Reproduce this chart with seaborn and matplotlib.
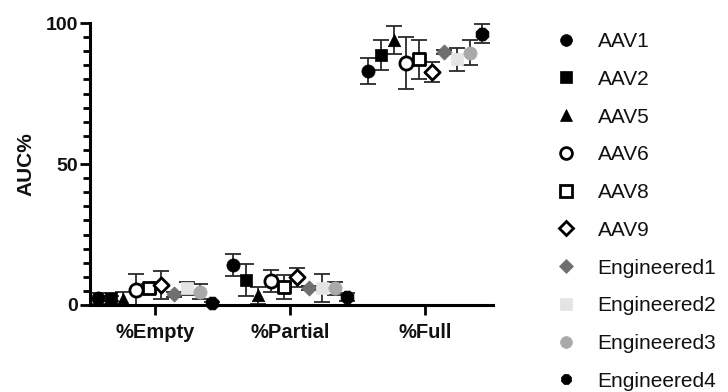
import numpy as np
import pandas as pd
import matplotlib
matplotlib.use("Agg")
import matplotlib.pyplot as plt
from matplotlib.lines import Line2D
import seaborn as sns

sns.set_theme(style="ticks")
plt.rcParams['font.family'] = ['Liberation Sans', 'DejaVu Sans']
plt.rcParams['text.color'] = '#111111'
plt.rcParams['axes.labelcolor'] = '#111111'

categories = ['%Empty', '%Partial', '%Full']
serotypes = ['AAV1', 'AAV2', 'AAV5', 'AAV6', 'AAV8', 'AAV9',
             'Engineered1', 'Engineered2', 'Engineered3', 'Engineered4']

# mean AUC% per serotype, order: %Empty, %Partial, %Full
mean_empty = [2.4, 2.3, 2.0, 5.3, 5.9, 7.1, 3.8, 5.9, 4.7, 0.6]
mean_partial = [14.2, 8.9, 3.5, 8.5, 6.5, 9.8, 6.1, 6.1, 5.9, 2.9]
mean_full = [83.0, 88.7, 94.0, 85.9, 87.1, 82.7, 89.8, 87.1, 89.5, 96.3]

sd_empty = [2.0, 1.0, 2.5, 5.7, 1.5, 5.0, 0.8, 2.4, 2.6, 0.5]
sd_partial = [3.8, 5.6, 3.0, 3.9, 4.3, 3.4, 0.8, 4.9, 2.4, 1.5]
sd_full = [4.7, 5.3, 5.0, 9.3, 7.0, 3.5, 0.8, 4.2, 4.5, 3.4]

df = pd.DataFrame({
    'Serotype': serotypes * 3,
    'Category': [c for c in categories for _ in serotypes],
    'AUC': mean_empty + mean_partial + mean_full,
    'SD': sd_empty + sd_partial + sd_full,
})

# marker styles: (marker, face, edge)
styles = {
    'AAV1': ('o', 'black', 'black'),
    'AAV2': ('s', 'black', 'black'),
    'AAV5': ('^', 'black', 'black'),
    'AAV6': ('o', 'white', 'black'),
    'AAV8': ('s', 'white', 'black'),
    'AAV9': ('D', 'white', 'black'),
    'Engineered1': ('D', '#6f6f6f', '#6f6f6f'),
    'Engineered2': ('s', '#e4e4e4', '#e4e4e4'),
    'Engineered3': ('o', '#a9a9a9', '#a9a9a9'),
    'Engineered4': ('8', 'black', 'black'),
}
sizes = {'D': 60, '^': 80, 's': 80, 'o': 90, '8': 100}

step = 0.094
df['pos'] = df['Category'].map({c: i for i, c in enumerate(categories)}) + \
    df['Serotype'].map({s: (i - 4.5) * step for i, s in enumerate(serotypes)})

fig = plt.figure(figsize=(7.28, 3.92), dpi=100)
ax = fig.add_axes([0.124, 0.222, 0.553, 0.719])

for s in serotypes:
    sub = df[df['Serotype'] == s]
    ax.errorbar(sub['pos'], sub['AUC'], yerr=sub['SD'], fmt='none',
                ecolor='#2a2a2a', elinewidth=1.3, capsize=6, capthick=1.3,
                zorder=2, clip_on=False)

for s in serotypes:
    m, fc, ec = styles[s]
    sub = df[df['Serotype'] == s]
    lw = 2.0 if fc == 'white' else 0.5
    sns.scatterplot(data=sub, x='pos', y='AUC', marker=m, s=sizes[m],
                    color=fc, edgecolor=ec, linewidth=lw, ax=ax,
                    zorder=3, clip_on=False, legend=False)

ax.set_xlim(-0.48, 2.5)
ax.set_ylim(0, 100)
ax.set_xticks(range(len(categories)))
ax.set_xticklabels(categories, fontweight='bold', fontsize=14.5)
ax.set_yticks([0, 50, 100])
ax.set_yticks(np.arange(0, 101, 5), minor=True)
ax.set_yticklabels(['0', '50', '100'], fontweight='bold', fontsize=14)
ax.set_xlabel('')
ax.set_ylabel('AUC%', fontweight='bold', fontsize=15, labelpad=7)
sns.despine(ax=ax)
for sp in ['left', 'bottom']:
    ax.spines[sp].set_linewidth(2.2)
    ax.spines[sp].set_color('black')
ax.tick_params(axis='y', which='major', length=7, width=2, pad=2,
               colors='black', labelcolor='#111111')
ax.tick_params(axis='y', which='minor', length=5, width=2, colors='black')
ax.tick_params(axis='x', length=7, width=2, pad=6, colors='black',
               labelcolor='#111111')

handles = []
for s in serotypes:
    m, fc, ec = styles[s]
    handles.append(Line2D([], [], linestyle='none', marker=m,
                          markerfacecolor=fc, markeredgecolor=ec,
                          markeredgewidth=2.0 if fc == 'white' else 0.5,
                          markersize=8.5 if m != 'D' else 7))
ax.legend(handles, serotypes, loc='upper left', bbox_to_anchor=(1.105, 1.035),
          frameon=False, fontsize=15, handletextpad=0.9, labelspacing=0.9,
          handlelength=1.2)

fig.savefig('out.png', dpi=100)
